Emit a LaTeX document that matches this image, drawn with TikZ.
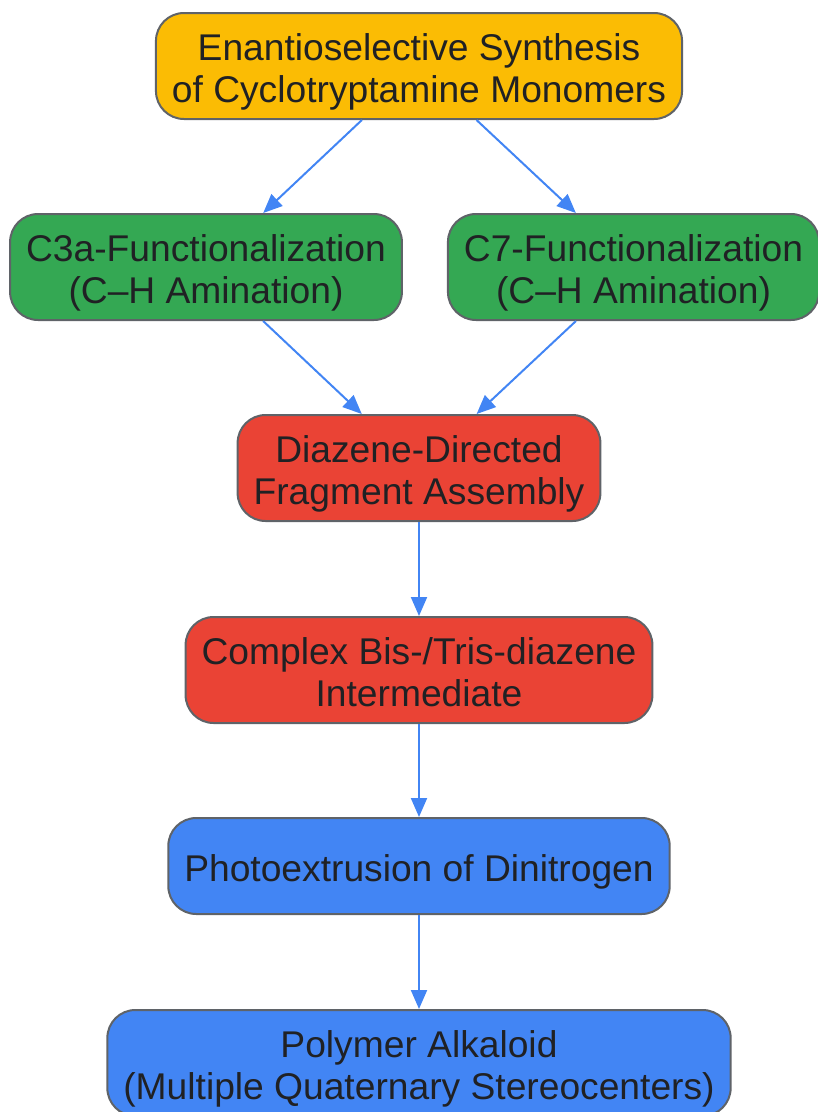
\documentclass[tikz,border=0pt]{standalone}
\usepackage{fontspec}
\setmainfont{Liberation Sans}
\usetikzlibrary{arrows.meta}
\definecolor{synthyellow}{HTML}{FBBC04}
\definecolor{synthgreen}{HTML}{34A853}
\definecolor{synthred}{HTML}{EA4335}
\definecolor{synthblue}{HTML}{4285F4}
\definecolor{edgegray}{HTML}{5F6368}
\definecolor{textdark}{HTML}{202124}
\tikzset{
  stagebox/.style={draw=edgegray, line width=2pt, rounded corners=28pt, align=center,
    text=textdark, font=\fontsize{37.2}{42}\selectfont, inner xsep=16pt, inner ysep=0pt,
    text height=72pt, text depth=0pt, minimum height=106pt},
  onelinebox/.style={stagebox, text height=30pt, minimum height=96pt},
  flow/.style={draw=synthblue, line width=2pt, -{Triangle[length=19pt,width=16pt]}}
}

\begin{document}
\begin{tikzpicture}[x=1pt, y=-1pt]
		%%%%% START %%%%%
		\useasboundingbox (0, 0) rectangle (818, 1112);
		
		\node[stagebox, fill=synthyellow] (monomers) at (419, 66) {Enantioselective Synthesis\\of Cyclotryptamine Monomers};
		
		\node[stagebox, fill=synthgreen] (cthree) at (206, 267) {C3a-Functionalization\\(C–H Amination)};
		\node[stagebox, fill=synthgreen] (cseven) at (633.5, 267) {C7-Functionalization\\(C–H Amination)};
		
		\node[stagebox, fill=synthred] (assembly) at (419, 468) {Diazene-Directed\\Fragment Assembly};
		\node[stagebox, fill=synthred] (diazene) at (419, 670) {Complex Bis-/Tris-diazene\\Intermediate};
		
		\node[onelinebox, fill=synthblue] (photo) at (419, 866) {Photoextrusion of Dinitrogen};
		\node[stagebox, fill=synthblue] (alkaloid) at (419, 1063) {Polymer Alkaloid\\(Multiple Quaternary Stereocenters)};
		
		\draw[flow] (monomers) -- (cthree);
		\draw[flow] (monomers) -- (cseven);
		\draw[flow] (cthree) -- (assembly);
		\draw[flow] (cseven) -- (assembly);
		\draw[flow] (assembly) -- (diazene);
		\draw[flow] (diazene) -- (photo);
		\draw[flow] (photo) -- (alkaloid);
		
		%%%%% END %%%%%
	\end{tikzpicture}
\end{document}
